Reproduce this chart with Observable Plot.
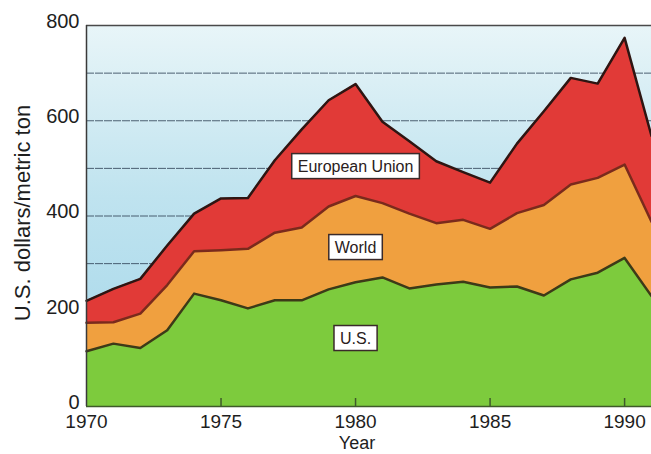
<!DOCTYPE html>
<html>
<head>
<meta charset="utf-8">
<script src="https://cdn.jsdelivr.net/npm/d3@7"></script>
<script src="https://cdn.jsdelivr.net/npm/@observablehq/plot@0.6"></script>
<style>
  html, body { margin: 0; padding: 0; background: #ffffff; }
  #chart { width: 651px; height: 454px; }
</style>
</head>
<body>
<div id="chart"></div>
<script>
// ---- data ----
const years = [1970, 1971, 1972, 1973, 1974, 1975, 1976, 1977, 1978, 1979, 1980,
               1981, 1982, 1983, 1984, 1985, 1986, 1987, 1988, 1989, 1990, 1991];
const euPrice = [222, 247, 268, 338, 405, 437, 438, 517, 582, 643, 677,
                 598, 557, 515, 492, 470, 552, 620, 690, 678, 774, 568];
const worldPrice = [176, 177, 195, 255, 326, 328, 331, 365, 376, 420, 442,
                    427, 405, 385, 392, 373, 406, 423, 466, 480, 508, 388];
const usPrice = [116, 132, 123, 160, 237, 223, 206, 223, 223, 246, 261,
                 271, 248, 256, 262, 250, 252, 233, 267, 281, 312, 232];

const xTicks = [1970, 1975, 1980, 1985, 1990];
const xInnerTicks = [1975, 1980, 1985, 1990];
const yTicks = [0, 200, 400, 600, 800];
const gridValues = [100, 200, 300, 400, 500, 600, 700];

const seriesNames = ["European Union", "World", "U.S."];
const labelYears = [1980, 1980, 1980];
const labelValues = [504, 334, 143];

const xTitle = "Year";
const yTitle = "U.S. dollars/metric ton";

// ---- tables built from the arrays ----
const rows = years.map((year, i) => ({year, eu: euPrice[i], world: worldPrice[i], us: usPrice[i]}));
const labelRows = seriesNames.map((name, i) => ({name, year: labelYears[i], value: labelValues[i]}));

const font = "'Liberation Sans', Arial, Helvetica, sans-serif";

const svg = Plot.plot({
  width: 651,
  height: 454,
  marginLeft: 86,
  marginRight: 0,
  marginTop: 25,
  marginBottom: 48,
  style: {fontFamily: font, background: "transparent", color: "#1e1e1e", overflow: "visible"},
  x: {domain: [1970, 1991]},
  y: {domain: [0, 800]},
  marks: [
    Plot.frame({fill: "url(#bgGrad)", stroke: null}),
    Plot.ruleY(gridValues, {stroke: "#34475a", strokeWidth: 1, strokeDasharray: "8,1", strokeOpacity: 0.85}),
    Plot.areaY(rows, {x: "year", y: "eu", fill: "#e13a37"}),
    Plot.areaY(rows, {x: "year", y: "world", fill: "#f0a03f"}),
    Plot.areaY(rows, {x: "year", y: "us", fill: "#7dcb3d"}),
    Plot.lineY(rows, {x: "year", y: "eu", stroke: "#2e1512", strokeWidth: 2.5, strokeLinejoin: "round"}),
    Plot.lineY(rows, {x: "year", y: "world", stroke: "#7a2a1c", strokeWidth: 2.5, strokeLinejoin: "round"}),
    Plot.lineY(rows, {x: "year", y: "us", stroke: "#3d3a18", strokeWidth: 2.5, strokeLinejoin: "round"}),
    Plot.ruleY([800], {stroke: "#4a4a4a", strokeWidth: 1.5}),
    Plot.ruleX([1970], {stroke: "#3a3a3a", strokeWidth: 1.5}),
    Plot.ruleY([0], {stroke: "#3f5a2a", strokeWidth: 1.5}),
    Plot.axisY({ticks: yTicks, tickSize: 0, tickPadding: 7, fontSize: 20, dy: -4, label: null}),
    Plot.axisX({ticks: xTicks, tickSize: 0, tickPadding: 8, fontSize: 19, label: null, tickFormat: d => String(d)}),
    Plot.axisX({ticks: xInnerTicks, tickSize: 8, dy: -8, text: null, label: null, stroke: "#3f5a2a", strokeWidth: 1.5}),
    Plot.text([yTitle], {frameAnchor: "left", textAnchor: "middle", rotate: -90, dx: -64, dy: -3, fontSize: 22, fill: "#1e1e1e"}),
    Plot.text([xTitle], {frameAnchor: "bottom", textAnchor: "middle", dx: -12, dy: 42, fontSize: 18, fill: "#1e1e1e"}),
    Plot.text(labelRows, {x: "year", y: "value", text: "name", fontSize: 16, fill: "#2a2020"})
  ]
});

document.getElementById("chart").appendChild(svg);

// background gradient for the plot frame
const defs = d3.select(svg).insert("defs", ":first-child");
const grad = defs.append("linearGradient")
  .attr("id", "bgGrad").attr("x1", 0).attr("y1", 0).attr("x2", 0).attr("y2", 1);
grad.append("stop").attr("offset", "0%").attr("stop-color", "#e8f5f8");
grad.append("stop").attr("offset", "45%").attr("stop-color", "#bfe3ef");
grad.append("stop").attr("offset", "100%").attr("stop-color", "#a3d6ea");

// white boxes behind the series labels
d3.select(svg).selectAll("text").each(function() {
  if (!seriesNames.includes(this.textContent)) return;
  const b = this.getBBox();
  const padX = 6, padY = 4;
  const rect = document.createElementNS("http://www.w3.org/2000/svg", "rect");
  rect.setAttribute("x", b.x - padX);
  rect.setAttribute("y", b.y - padY);
  rect.setAttribute("width", b.width + 2 * padX);
  rect.setAttribute("height", b.height + 2 * padY);
  rect.setAttribute("fill", "#ffffff");
  rect.setAttribute("stroke", "#3a2a2a");
  rect.setAttribute("stroke-width", "1.5");
  const t = this.getAttribute("transform");
  if (t) rect.setAttribute("transform", t);
  this.parentNode.insertBefore(rect, this);
});
</script>
</body>
</html>
